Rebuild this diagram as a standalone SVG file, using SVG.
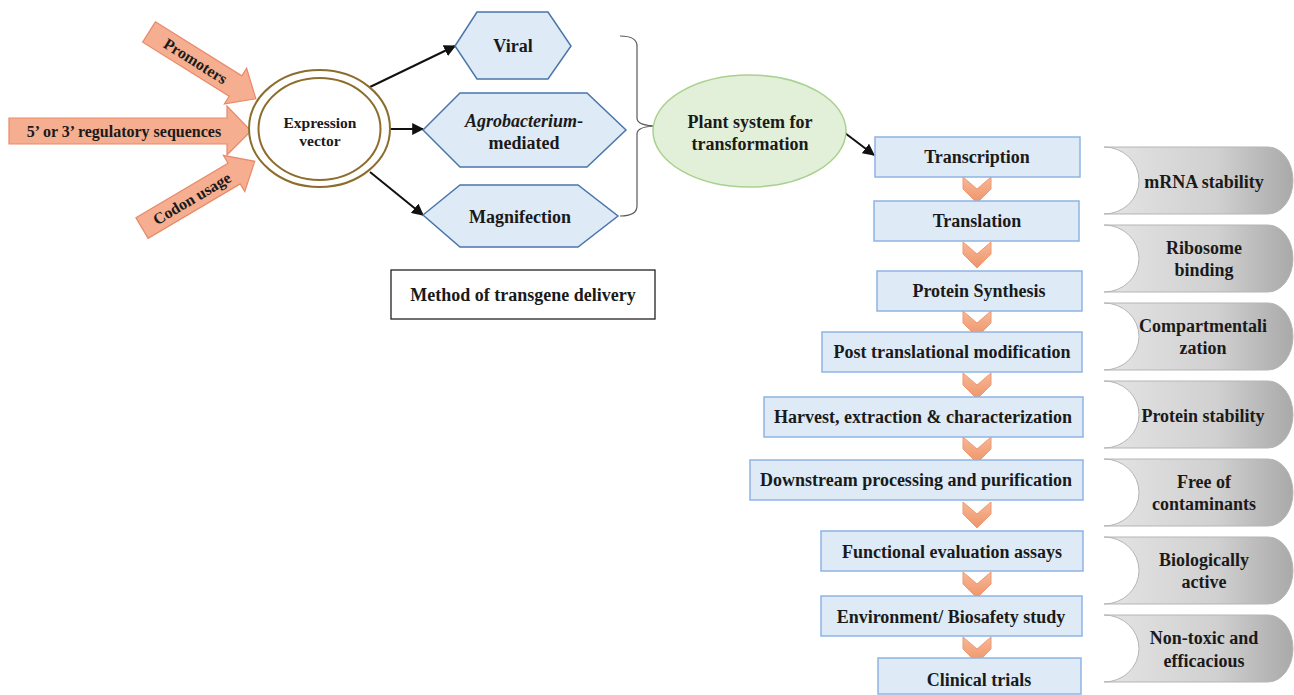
<svg xmlns="http://www.w3.org/2000/svg" width="1294" height="695" viewBox="0 0 1294 695">
<style>
text{font-family:"Liberation Serif","Times New Roman",serif;font-weight:bold;fill:#1a1a1a;text-anchor:middle;dominant-baseline:central}
.in{fill:#F5AE8F;stroke:#E9896A;stroke-width:1.2}
.hex{fill:#DEEAF6;stroke:#4A76A8;stroke-width:1.5}
.box{fill:#DEEBF7;stroke:#8EB4E3;stroke-width:1.5}
.chev{fill:url(#chg);stroke:#EE9A74;stroke-width:1}
.grey{fill:url(#gg);stroke:#B5B5B5;stroke-width:1}
.con{stroke:#111;stroke-width:2;fill:none;marker-end:url(#ah)}
.t16{font-size:16px}
.t18{font-size:18px}
</style>
<defs>
<marker id="ah" viewBox="0 0 10 10" refX="9" refY="5" markerWidth="12" markerHeight="12" markerUnits="userSpaceOnUse" orient="auto">
<path d="M0,0 L10,5 L0,10 Z" fill="#111"/>
</marker>
<linearGradient id="gg" x1="0" y1="0" x2="1" y2="0">
<stop offset="0" stop-color="#E4E4E4"/>
<stop offset="0.6" stop-color="#D0D0D0"/>
<stop offset="1" stop-color="#A9A9A9"/>
</linearGradient>
<linearGradient id="chg" x1="0" y1="0" x2="0" y2="1">
<stop offset="0" stop-color="#F6B896"/>
<stop offset="1" stop-color="#EF9469"/>
</linearGradient>
<path id="chevron" d="M-14,0 L0,12 L14,0 L14,12 L0,26 L-14,12 Z"/>
</defs>

<g id="connectors">
<line class="con" x1="370" y1="87" x2="455" y2="46"/>
<line class="con" x1="390" y1="129" x2="423" y2="129"/>
<line class="con" x1="370" y1="172" x2="423" y2="215"/>
<line class="con" x1="841" y1="130" x2="874" y2="155"/>
<path d="M620,36 Q637,36 637,46 L637,118 Q637,126 658,126 Q637,126 637,134 L637,206 Q637,216 620,216" fill="none" stroke="#595959" stroke-width="1.2"/>
</g>

<g id="promoters">
<g transform="translate(149,32) rotate(32)">
<path class="in" d="M0,-12 L102,-12 L102,-21 L126,0 L102,21 L102,12 L0,12 Z"/>
<text class="t16" x="55" y="0">Promoters</text>
</g>
</g>
<g id="regulatory">
<path class="in" d="M9,118 L227,118 L227,106 L251,131 L227,155 L227,144 L9,144 Z"/>
<text class="t16" x="124" y="131">5’ or 3’ regulatory sequences</text>
</g>
<g id="codon">
<g transform="translate(142,228) rotate(-30.6)">
<path class="in" d="M0,-12 L107,-12 L107,-21 L131,0 L107,21 L107,12 L0,12 Z"/>
<text class="t16" x="58" y="0">Codon usage</text>
</g>
</g>

<g id="expression-vector">
<ellipse cx="319.5" cy="128.5" rx="70.5" ry="58.5" fill="#fff" stroke="#8C6D2C" stroke-width="2"/>
<ellipse cx="319.5" cy="129" rx="61" ry="51" fill="#fff" stroke="#8C6D2C" stroke-width="2"/>
<text x="320" y="122" style="font-size:15.5px">Expression</text>
<text x="320" y="140" style="font-size:15.5px">vector</text>
</g>

<g id="viral">
<polygon class="hex" points="455,46 477,12 548,12 571,46 548,79 477,79"/>
<text class="t18" x="513" y="46">Viral</text>
</g>
<g id="agrobacterium">
<polygon class="hex" points="423,130 460,93 587,93 626,130 587,167 460,167"/>
<text class="t18" x="524" y="121"><tspan font-style="italic">Agrobacterium</tspan>-</text>
<text class="t18" x="524" y="143">mediated</text>
</g>
<g id="magnifection">
<polygon class="hex" points="423,215 460,185 578,185 618,216 578,247 460,247"/>
<text class="t18" x="520" y="217">Magnifection</text>
</g>

<g id="method-label">
<rect x="391" y="270" width="264" height="49" fill="#fff" stroke="#222" stroke-width="1.3"/>
<text class="t18" x="523" y="295">Method of transgene delivery</text>
</g>

<g id="plant-system">
<ellipse cx="749.5" cy="131" rx="96.5" ry="56" fill="#E2F0D9" stroke="#A9D18E" stroke-width="1.5"/>
<text class="t18" x="750" y="122">Plant system for</text>
<text class="t18" x="750" y="144">transformation</text>
</g>

<g id="chevrons">
<use href="#chevron" class="chev" x="977" y="177"/>
<use href="#chevron" class="chev" x="977" y="242"/>
<use href="#chevron" class="chev" x="977" y="311"/>
<use href="#chevron" class="chev" x="977" y="373"/>
<use href="#chevron" class="chev" x="977" y="437"/>
<use href="#chevron" class="chev" x="977" y="502"/>
<use href="#chevron" class="chev" x="977" y="572"/>
<use href="#chevron" class="chev" x="977" y="637"/>
</g>

<g id="transcription"><rect class="box" x="875" y="137" width="205" height="40"/><text class="t18" x="977" y="157">Transcription</text></g>
<g id="translation"><rect class="box" x="874" y="201" width="205" height="40"/><text class="t18" x="977" y="221">Translation</text></g>
<g id="protein-synthesis"><rect class="box" x="877" y="271" width="205" height="40"/><text class="t18" x="979" y="291">Protein Synthesis</text></g>
<g id="post-translational"><rect class="box" x="822" y="332" width="260" height="40"/><text class="t18" x="952" y="352">Post translational modification</text></g>
<g id="harvest"><rect class="box" x="764" y="397" width="319" height="40"/><text class="t18" x="923" y="417">Harvest, extraction &amp; characterization</text></g>
<g id="downstream"><rect class="box" x="750" y="460" width="333" height="40"/><text class="t18" x="916" y="480">Downstream processing and purification</text></g>
<g id="functional"><rect class="box" x="821" y="531" width="262" height="40"/><text class="t18" x="952" y="552">Functional evaluation assays</text></g>
<g id="environment"><rect class="box" x="821" y="596" width="261" height="40"/><text class="t18" x="951" y="617">Environment/ Biosafety study</text></g>
<g id="clinical"><rect class="box" x="878" y="658" width="203" height="36"/><text class="t18" x="979" y="680">Clinical trials</text></g>

<g id="mrna-stability">
<path class="grey" d="M1104,147 L1268,147 A25,33.5 0 0 1 1268,214 L1104,214 A35,33.5 0 0 0 1104,147 Z"/>
<text class="t18" x="1204" y="182">mRNA stability</text>
</g>
<g id="ribosome-binding">
<path class="grey" d="M1104,225 L1268,225 A25,33.5 0 0 1 1268,292 L1104,292 A35,33.5 0 0 0 1104,225 Z"/>
<text class="t18" x="1204" y="248">Ribosome</text>
<text class="t18" x="1204" y="270">binding</text>
</g>
<g id="compartmentalization">
<path class="grey" d="M1104,303 L1268,303 A25,33.5 0 0 1 1268,370 L1104,370 A35,33.5 0 0 0 1104,303 Z"/>
<text class="t18" x="1203" y="326">Compartmentali</text>
<text class="t18" x="1203" y="348">zation</text>
</g>
<g id="protein-stability">
<path class="grey" d="M1104,381 L1268,381 A25,33.5 0 0 1 1268,448 L1104,448 A35,33.5 0 0 0 1104,381 Z"/>
<text class="t18" x="1203" y="416">Protein stability</text>
</g>
<g id="free-of-contaminants">
<path class="grey" d="M1104,459 L1268,459 A25,33.5 0 0 1 1268,526 L1104,526 A35,33.5 0 0 0 1104,459 Z"/>
<text class="t18" x="1204" y="482">Free of</text>
<text class="t18" x="1204" y="504">contaminants</text>
</g>
<g id="biologically-active">
<path class="grey" d="M1104,537 L1268,537 A25,33.5 0 0 1 1268,604 L1104,604 A35,33.5 0 0 0 1104,537 Z"/>
<text class="t18" x="1204" y="560">Biologically</text>
<text class="t18" x="1204" y="582">active</text>
</g>
<g id="non-toxic">
<path class="grey" d="M1104,615 L1268,615 A25,33.5 0 0 1 1268,682 L1104,682 A35,33.5 0 0 0 1104,615 Z"/>
<text class="t18" x="1204" y="638">Non-toxic and</text>
<text class="t18" x="1204" y="661">efficacious</text>
</g>
</svg>
